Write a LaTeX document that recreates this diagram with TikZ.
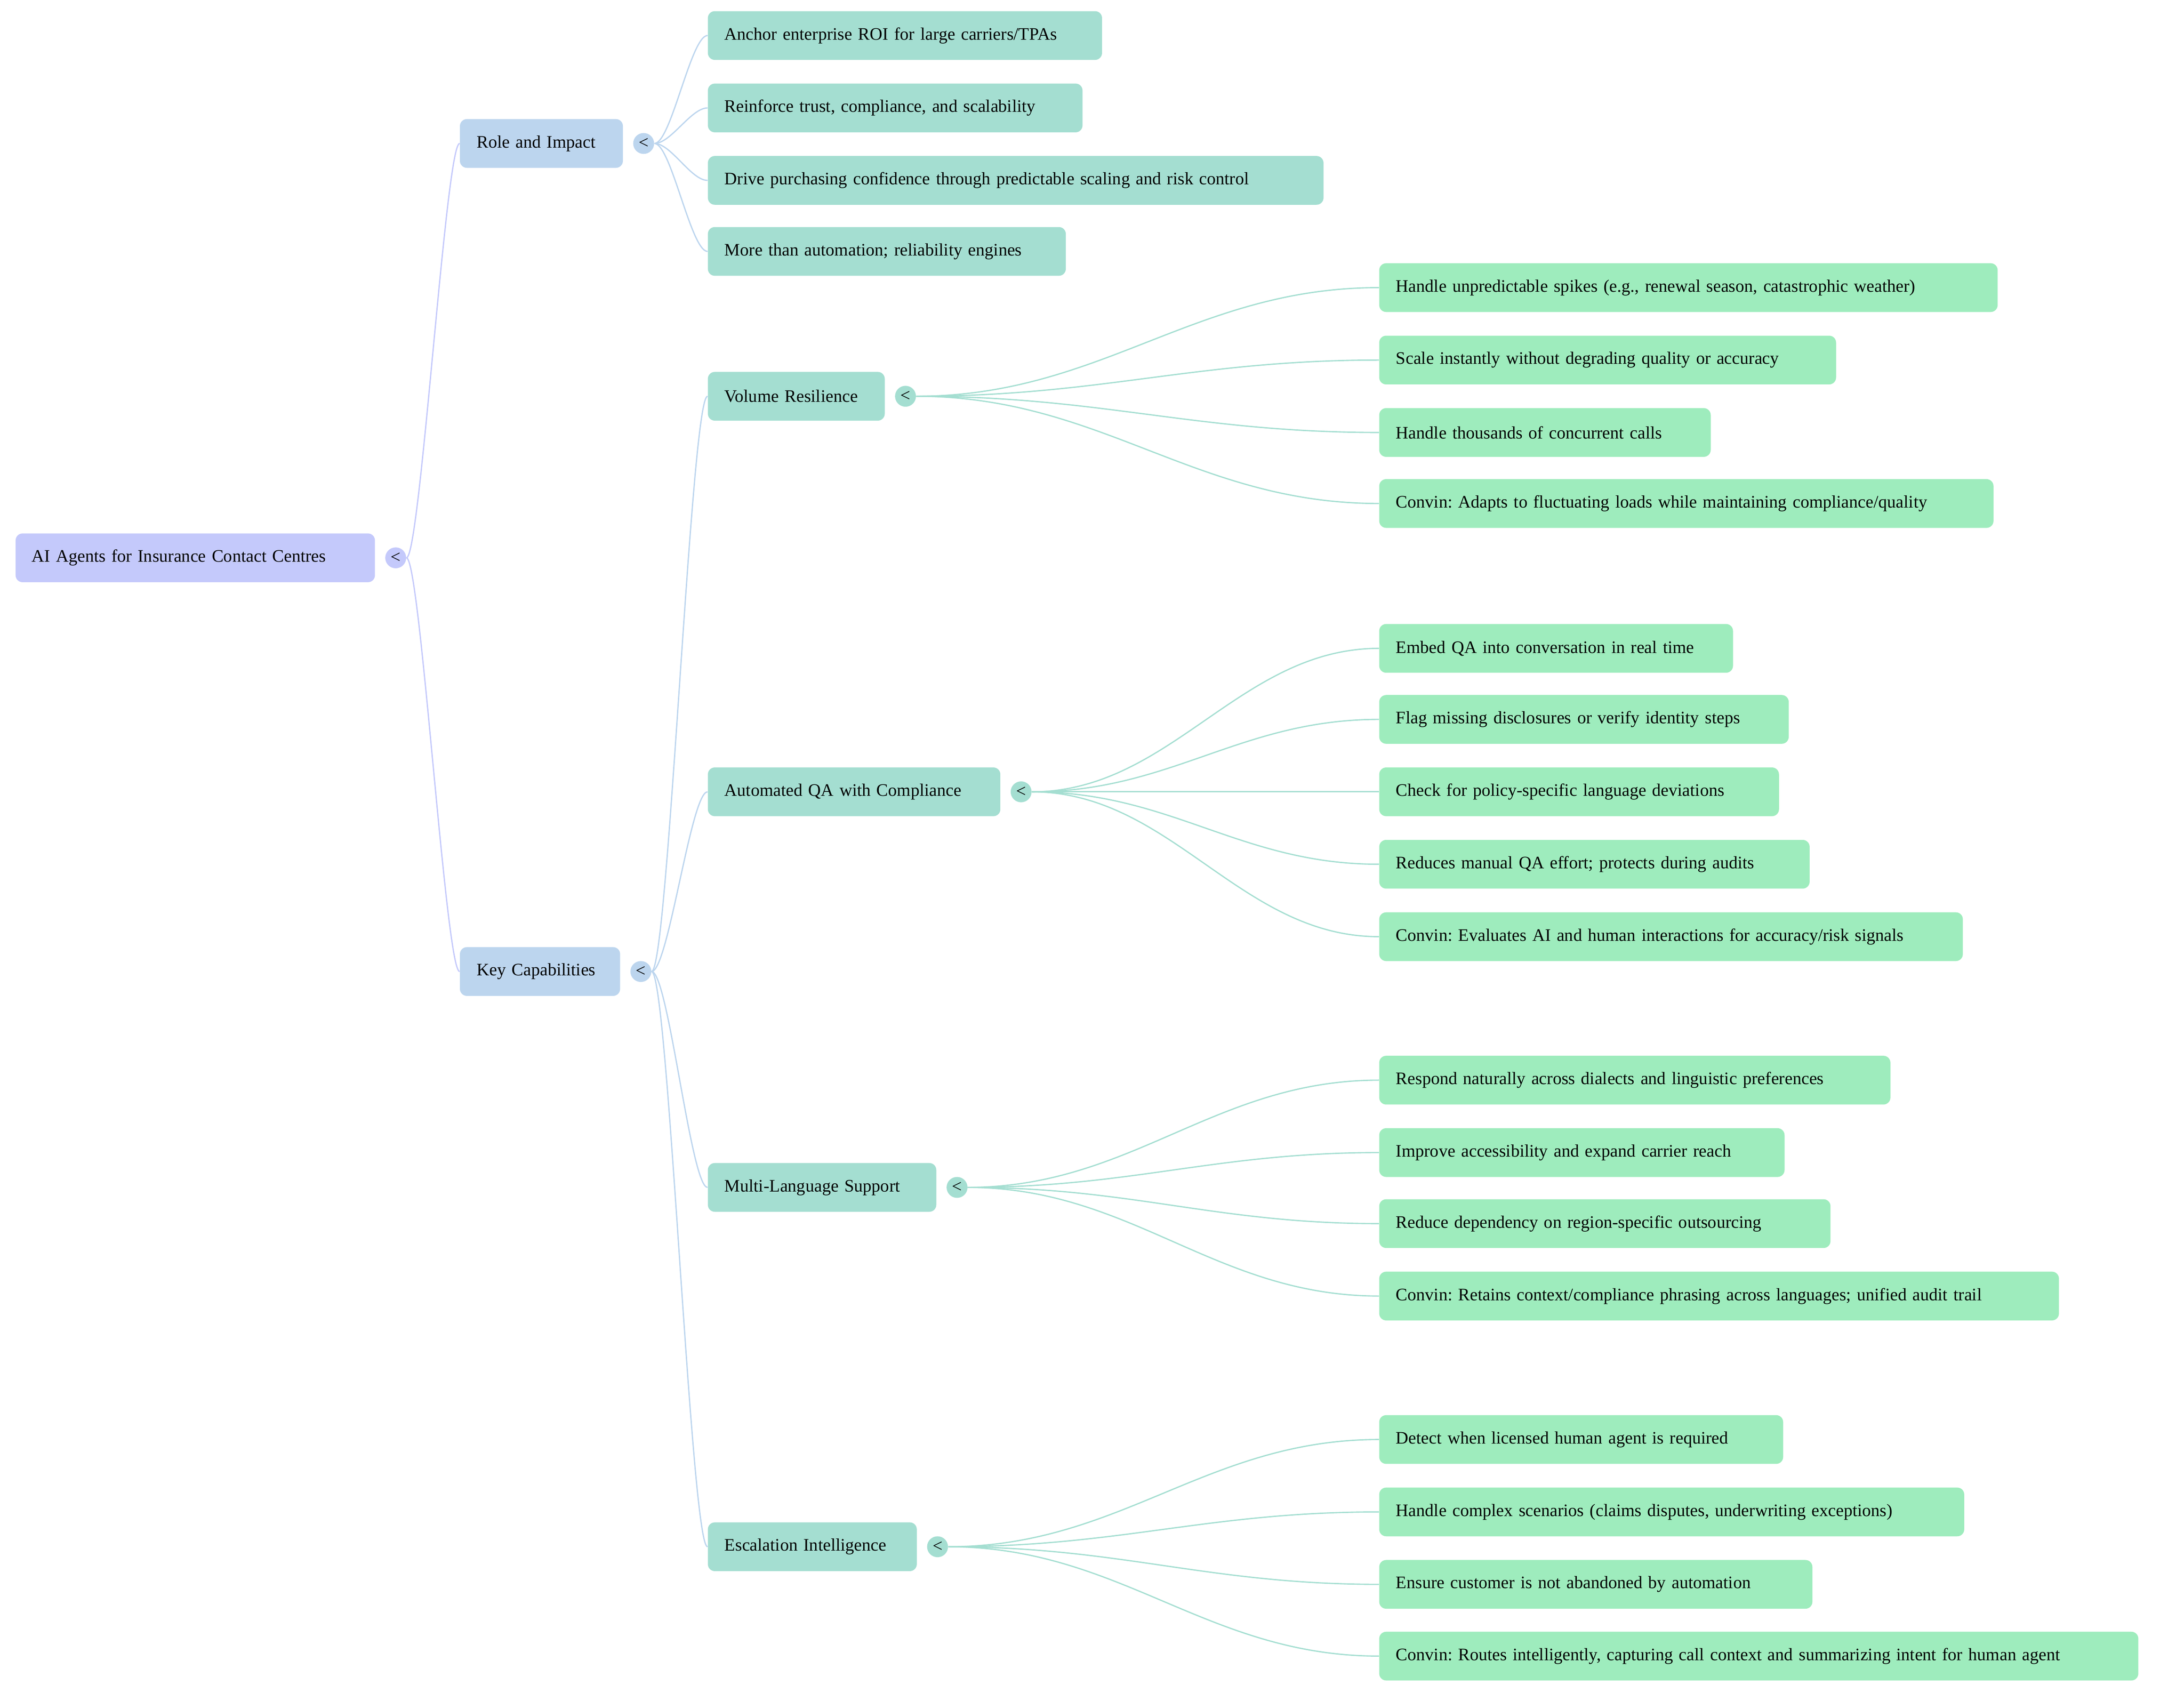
\documentclass[tikz,border=0pt]{standalone}
\usepackage{fontspec}
\setmainfont{Liberation Serif}
\frenchspacing
\usetikzlibrary{positioning}
\definecolor{rootc}{RGB}{196,201,251}
\definecolor{secc}{RGB}{188,213,238}
\definecolor{subc}{RGB}{164,222,209}
\definecolor{leafc}{RGB}{158,236,189}
\tikzset{
	box/.style={rounded corners=5pt, minimum height=35pt, inner xsep=12pt, inner ysep=0pt, anchor=west, align=left, font=\fontsize{12.6pt}{15pt}\selectfont},
	rootbox/.style={box, fill=rootc, text width=#1},
	secbox/.style={box, fill=secc, text width=#1},
	subbox/.style={box, fill=subc, text width=#1},
	leafbox/.style={box, fill=leafc, text width=#1},
	knob/.style={circle, fill=#1, minimum size=15pt, inner sep=0pt, font=\fontsize{12.6pt}{15pt}\selectfont},
	link/.style={draw=#1, line width=0.9pt}
}

\begin{document}
\begin{tikzpicture}[x=1pt,y=-1pt]
				\useasboundingbox (0,0) rectangle (1568,1215.2);
				% Racine
				\node[rootbox=235, inner xsep=11.5pt] (root) at (11,400.5) {AI Agents for Insurance Contact Centres};
				\node[knob=rootc, right=7pt of root] (rootk) {<};
				% Branches
				\node[secbox=93] (role) at (330,103) {Role and Impact};
				\node[knob=secc, right=7pt of role] (rolek) {<};
				\node[secbox=91] (keycap) at (330,697.5) {Key Capabilities};
				\node[knob=secc, right=7pt of keycap] (keycapk) {<};
				% Role and Impact
				\node[subbox=259] (anchor) at (508,25.5) {Anchor enterprise ROI for large carriers/TPAs};
				\node[subbox=245] (trust) at (508,77.5) {Reinforce trust, compliance, and scalability};
				\node[subbox=418] (confid) at (508,129.5) {Drive purchasing confidence through predictable scaling and risk control};
				\node[subbox=233] (engine) at (508,180.5) {More than automation; reliability engines};
				% Key Capabilities
				\node[subbox=103] (volume) at (508,284.5) {Volume Resilience};
				\node[knob=subc, right=7pt of volume] (volumek) {<};
				\node[subbox=186] (autoqa) at (508,568.5) {Automated QA with Compliance};
				\node[knob=subc, right=7pt of autoqa] (autoqak) {<};
				\node[subbox=140] (multil) at (508,852.5) {Multi-Language Support};
				\node[knob=subc, right=7pt of multil] (multilk) {<};
				\node[subbox=126] (escal) at (508,1110.5) {Escalation Intelligence};
				\node[knob=subc, right=7pt of escal] (escalk) {<};
				% Feuilles
				\node[leafbox=420] (spikes) at (990,206.5) {Handle unpredictable spikes (e.g., renewal season, catastrophic weather)};
				\node[leafbox=304] (scale) at (990,258.5) {Scale instantly without degrading quality or accuracy};
				\node[leafbox=214] (concur) at (990,310.5) {Handle thousands of concurrent calls};
				\node[leafbox=417] (adapts) at (990,361.5) {Convin: Adapts to fluctuating loads while maintaining compliance/quality};
				\node[leafbox=230] (embed) at (990,465.5) {Embed QA into conversation in real time};
				\node[leafbox=270] (flag) at (990,516.5) {Flag missing disclosures or verify identity steps};
				\node[leafbox=263] (policy) at (990,568.5) {Check for policy-specific language deviations};
				\node[leafbox=285] (reduce) at (990,620.5) {Reduces manual QA effort; protects during audits};
				\node[leafbox=395] (evals) at (990,672.5) {Convin: Evaluates AI and human interactions for accuracy/risk signals};
				\node[leafbox=343] (respond) at (990,775.5) {Respond naturally across dialects and linguistic preferences};
				\node[leafbox=267] (access) at (990,827.5) {Improve accessibility and expand carrier reach};
				\node[leafbox=300] (depend) at (990,878.5) {Reduce dependency on region-specific outsourcing};
				\node[leafbox=464] (retain) at (990,930.5) {Convin: Retains context/compliance phrasing across languages; unified audit trail};
				\node[leafbox=266] (detect) at (990,1033.5) {Detect when licensed human agent is required};
				\node[leafbox=396] (complex) at (990,1085.5) {Handle complex scenarios (claims disputes, underwriting exceptions)};
				\node[leafbox=287] (ensure) at (990,1137.5) {Ensure customer is not abandoned by automation};
				\node[leafbox=521] (routes) at (990,1189) {Convin: Routes intelligently, capturing call context and summarizing intent for human agent};
				% Liens
				\foreach \n in {role,keycap}
					\draw[link=rootc] (rootk.east) .. controls +(10,0) and +(-10,0) .. (\n.west);
				\foreach \n in {anchor,trust,confid,engine}
					\draw[link=secc] (rolek.east) .. controls +(12,0) and +(-12,0) .. (\n.west);
				\foreach \n in {volume,autoqa,multil,escal}
					\draw[link=secc] (keycapk.east) .. controls +(12,0) and +(-12,0) .. (\n.west);
				\foreach \n in {spikes,scale,concur,adapts}
					\draw[link=subc] (volumek.east) .. controls +(133,0) and +(-133,0) .. (\n.west);
				\foreach \n in {embed,flag,policy,reduce,evals}
					\draw[link=subc] (autoqak.east) .. controls +(100,0) and +(-100,0) .. (\n.west);
				\foreach \n in {respond,access,depend,retain}
					\draw[link=subc] (multilk.east) .. controls +(118,0) and +(-118,0) .. (\n.west);
				\foreach \n in {detect,complex,ensure,routes}
					\draw[link=subc] (escalk.east) .. controls +(124,0) and +(-124,0) .. (\n.west);
\end{tikzpicture}
\end{document}
